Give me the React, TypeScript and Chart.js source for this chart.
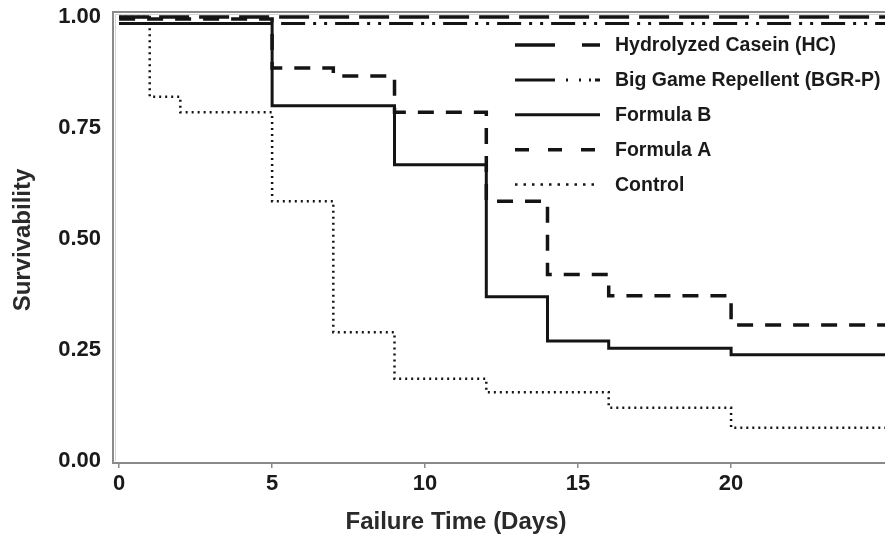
import React, { useEffect, useRef } from "react";
import { Chart, registerables } from "chart.js";
Chart.register(...registerables);

// ---- data ----
const X_END = 25.03;
const xTickValues = [0, 5, 10, 15, 20];
const yTickValues = [0, 0.25, 0.5, 0.75, 1.0];

const seriesNames = [
  "Hydrolyzed Casein (HC)",
  "Big Game Repellent (BGR-P)",
  "Formula B",
  "Formula A",
  "Control",
];

const hcDays = [0, X_END];
const hcSurv = [1.0, 1.0];
const bgrDays = [0, X_END];
const bgrSurv = [0.985, 0.985];
const formulaBDays = [0, 5, 9, 12, 14, 16, 20, X_END];
const formulaBSurv = [0.985, 0.8, 0.667, 0.37, 0.27, 0.254, 0.239, 0.239];
const formulaADays = [0, 5, 7, 9, 12, 14, 16, 20, X_END];
const formulaASurv = [0.995, 0.885, 0.867, 0.785, 0.585, 0.42, 0.372, 0.306, 0.306];
const controlDays = [0, 1, 2, 5, 7, 9, 12, 16, 20, X_END];
const controlSurv = [1.0, 0.82, 0.785, 0.585, 0.29, 0.185, 0.155, 0.12, 0.075, 0.075];

const xTitle = "Failure Time (Days)";
const yTitle = "Survivability";

// ---- styles ----
const FONT = "'Liberation Sans', Arial, sans-serif";
const INK = "#141414";
const FRAME = "#8a8a8a";
const lineDashes = [[30, 10], [24, 8, 3, 8, 3, 8], [], [16, 12], [2, 4]];
const lineWidths = [3.5, 3, 3, 3.5, 2.5];
const legendDashes = [[40, 27], [40, 11, 2, 11, 2, 8, 2, 4, 6], [], [14, 19], [2.5, 6]];

const toPts = (xs: number[], ys: number[]) => xs.map((x, i) => ({ x, y: ys[i] }));

const overlay = {
  id: "overlay",
  beforeDatasetsDraw(chart: any) {
    const { ctx, chartArea: a } = chart;
    ctx.save();
    ctx.strokeStyle = FRAME;
    ctx.lineWidth = 2;
    ctx.beginPath();
    ctx.moveTo(a.left - 1, a.top);
    ctx.lineTo(a.right, a.top);
    ctx.stroke();
    ctx.strokeStyle = "#d4d4d4";
    ctx.lineWidth = 1;
    ctx.beginPath();
    ctx.moveTo(a.left + 2.5, a.bottom - 2);
    ctx.lineTo(a.left + 2.5, a.top + 2.5);
    ctx.lineTo(a.right, a.top + 2.5);
    ctx.stroke();
    ctx.restore();
  },
  afterDraw(chart: any) {
    const { ctx } = chart;
    ctx.save();
    ctx.fillStyle = "#2a2a2a";
    ctx.font = `bold 24px ${FONT}`;
    ctx.textAlign = "center";
    ctx.textBaseline = "middle";
    ctx.fillText(xTitle, 456, 522);
    ctx.save();
    ctx.translate(23, 240);
    ctx.rotate(-Math.PI / 2);
    ctx.fillText(yTitle, 0, 0);
    ctx.restore();

    // legend
    const x0 = 515, x1 = 600, tx = 615, top = 45, gap = 34.9;
    ctx.font = `bold 19.5px ${FONT}`;
    ctx.textAlign = "left";
    ctx.fillStyle = "#1a1a1a";
    seriesNames.forEach((name, i) => {
      const y = top + gap * i;
      ctx.strokeStyle = INK;
      ctx.lineWidth = lineWidths[i];
      ctx.setLineDash(legendDashes[i]);
      ctx.beginPath();
      ctx.moveTo(x0, y);
      ctx.lineTo(x1, y);
      ctx.stroke();
      ctx.setLineDash([]);
      ctx.fillText(name, tx, y + 1);
    });
    ctx.restore();
  },
};

export default function App() {
  const ref = useRef<HTMLCanvasElement>(null);
  useEffect(() => {
    if (!ref.current) return;
    const series = [
      toPts(hcDays, hcSurv),
      toPts(bgrDays, bgrSurv),
      toPts(formulaBDays, formulaBSurv),
      toPts(formulaADays, formulaASurv),
      toPts(controlDays, controlSurv),
    ];
    const chart = new Chart(ref.current, {
      type: "line",
      data: {
        datasets: series.map((data, i) => ({
          label: seriesNames[i],
          data,
          stepped: "before" as const,
          borderColor: INK,
          borderWidth: lineWidths[i],
          borderDash: lineDashes[i],
          pointRadius: 0,
          fill: false,
        })),
      },
      options: {
        animation: false,
        responsive: true,
        maintainAspectRatio: false,
        layout: { padding: { top: 12, left: 0, right: 0, bottom: 0 } },
        plugins: { legend: { display: false }, tooltip: { enabled: false } },
        scales: {
          x: {
            type: "linear",
            min: -0.2,
            max: X_END,
            afterBuildTicks: (s: any) => {
              s.ticks = xTickValues.map((v) => ({ value: v }));
            },
            afterFit: (s: any) => {
              s.height = 85;
              s.paddingLeft = 0;
              s.paddingRight = 0;
            },
            grid: {
              display: true,
              drawOnChartArea: false,
              drawTicks: true,
              tickLength: 5,
              color: FRAME,
              lineWidth: 1.5,
            },
            border: { display: true, color: FRAME, width: 2 },
            ticks: {
              padding: 3,
              color: "#1a1a1a",
              font: { family: FONT, size: 22, weight: "bold" },
              maxRotation: 0,
            },
          },
          y: {
            type: "linear",
            min: -0.0045,
            max: 1.011,
            afterBuildTicks: (s: any) => {
              s.ticks = yTickValues.map((v) => ({ value: v }));
            },
            afterFit: (s: any) => {
              s.width = 113;
              s.paddingTop = 0;
              s.paddingBottom = 0;
            },
            grid: { display: false, drawTicks: false },
            border: { display: true, color: FRAME, width: 2 },
            ticks: {
              padding: 12,
              color: "#1a1a1a",
              font: { family: FONT, size: 22, weight: "bold" },
              callback: (v: any) => Number(v).toFixed(2),
            },
          },
        },
      },
      plugins: [overlay],
    });
    return () => chart.destroy();
  }, []);
  return (
    <div style={{ position: "fixed", left: 0, top: 0, width: 885, height: 548, background: "#fff" }}>
      <canvas ref={ref} />
    </div>
  );
}
